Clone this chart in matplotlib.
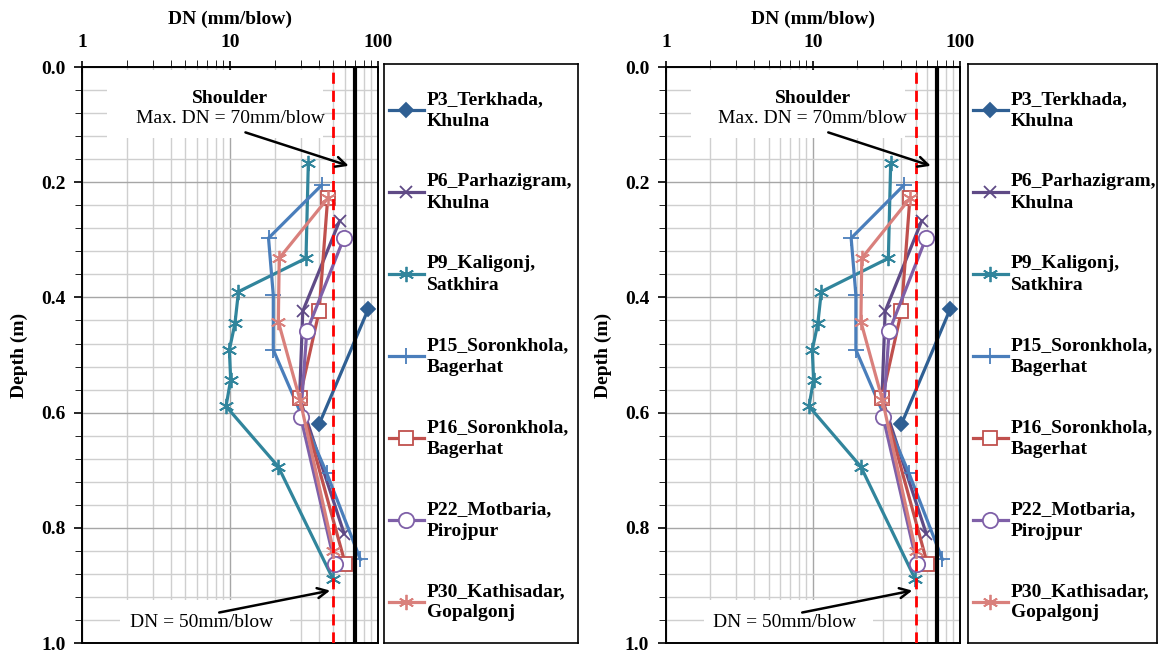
import matplotlib.pyplot as plt
import matplotlib.ticker as mticker
from matplotlib.patches import Rectangle

plt.rcParams['font.family'] = ['Liberation Serif', 'DejaVu Serif']
plt.rcParams['font.weight'] = 'bold'

# DCP results: dynamic penetration index DN (mm/blow) against depth (m)
p3_dn = [86, 40]
p3_depth = [0.42, 0.62]

p6_dn = [55, 31, 29.5, 59]
p6_depth = [0.267, 0.424, 0.575, 0.81]

p9_dn = [33.8, 32.6, 11.4, 10.8, 9.9, 10.1, 9.4, 21.2, 49.4]
p9_depth = [0.167, 0.332, 0.39, 0.445, 0.491, 0.543, 0.589, 0.694, 0.888]

p15_dn = [41.6, 18.2, 19.6, 19.6, 45, 76]
p15_depth = [0.205, 0.297, 0.396, 0.491, 0.705, 0.855]

p16_dn = [45.7, 40, 29.5, 60]
p16_depth = [0.227, 0.424, 0.575, 0.862]

p22_dn = [59, 33, 30, 51]
p22_depth = [0.296, 0.459, 0.607, 0.862]

p30_dn = [45.7, 21.5, 21.2, 29.7, 50]
p30_depth = [0.228, 0.332, 0.442, 0.578, 0.84]

labels = ['P3_Terkhada,\nKhulna', 'P6_Parhazigram,\nKhulna', 'P9_Kaligonj,\nSatkhira',
          'P15_Soronkhola,\nBagerhat', 'P16_Soronkhola,\nBagerhat', 'P22_Motbaria,\nPirojpur',
          'P30_Kathisadar,\nGopalgonj']

max_dn = 70      # shoulder limit
limit_dn = 50    # DN limit line

asterisk = (6, 2, 0)
series = [
    (p3_dn, p3_depth, '#2f5f93', 'D', 7, None),
    (p6_dn, p6_depth, '#5f4a86', 'x', 9, None),
    (p9_dn, p9_depth, '#31859c', asterisk, 11, None),
    (p15_dn, p15_depth, '#4a7ebb', '+', 11, None),
    (p16_dn, p16_depth, '#c0504d', 's', 10, 'white'),
    (p22_dn, p22_depth, '#7f60a8', 'o', 11, 'white'),
    (p30_dn, p30_depth, '#d9807c', asterisk, 11, None),
]


def draw_panel(ax, leg_ax):
    for (dn, depth, color, marker, ms, face), label in zip(series, labels):
        ax.plot(dn, depth, color=color, lw=2.3, marker=marker, ms=ms,
                mfc=face if face else color, mec=color, mew=1.3,
                label=label, zorder=4)

    ax.axvline(limit_dn, color='#ff0000', lw=2, ls=(0, (4, 2.5)), zorder=5)
    ax.axvline(max_dn, color='black', lw=3, zorder=5)

    ax.set_xscale('log')
    ax.set_xlim(1, 100)
    ax.set_ylim(1.0, 0.0)

    ax.xaxis.set_ticks_position('top')
    ax.xaxis.set_label_position('top')
    ax.xaxis.set_major_formatter(mticker.FuncFormatter(lambda v, p: f'{v:g}'))
    ax.xaxis.set_minor_formatter(mticker.NullFormatter())
    ax.set_xlabel('DN (mm/blow)', fontsize=14, fontweight='bold', labelpad=7)

    ax.yaxis.set_major_locator(mticker.MultipleLocator(0.2))
    ax.yaxis.set_minor_locator(mticker.MultipleLocator(0.04))
    ax.yaxis.set_major_formatter(mticker.FormatStrFormatter('%.1f'))
    ax.set_ylabel('Depth (m)', fontsize=14, fontweight='bold', labelpad=9)

    ax.tick_params(which='major', labelsize=14, width=1.2)
    ax.tick_params(axis='x', which='major', direction='inout', length=9, pad=7)
    ax.tick_params(axis='x', which='minor', direction='out', length=5, top=True)
    ax.tick_params(axis='y', which='major', direction='out', length=6, pad=6)
    ax.tick_params(axis='y', which='minor', direction='out', length=5)

    ax.grid(True, which='major', color='#a6a6a6', lw=1.0, zorder=0)
    ax.grid(True, which='minor', color='#cfcfcf', lw=1.0, zorder=0)
    ax.set_axisbelow(True)
    for s in ax.spines.values():
        s.set_linewidth(1.4)

    # white label boxes that hide the grid behind the annotations
    ax.add_patch(Rectangle((0.084, 0.877), 0.73, 0.118, transform=ax.transAxes,
                           facecolor='white', edgecolor='none', zorder=2))
    ax.add_patch(Rectangle((0.128, 0.002), 0.575, 0.073, transform=ax.transAxes,
                           facecolor='white', edgecolor='none', zorder=2))

    ax.text(10, 0.054, 'Shoulder', ha='center', va='center', fontsize=14,
            fontweight='bold', zorder=6)
    ax.text(10, 0.09, 'Max. DN = 70mm/blow', ha='center', va='center', fontsize=14,
            fontweight='normal', zorder=6)
    ax.annotate('', xy=(66, 0.173), xytext=(12.2, 0.112),
                arrowprops=dict(arrowstyle='->', color='black', lw=1.8,
                                mutation_scale=18), zorder=6)

    ax.text(6.4, 0.965, 'DN = 50mm/blow', ha='center', va='center', fontsize=14,
            fontweight='normal', zorder=6)
    ax.annotate('', xy=(49.5, 0.908), xytext=(8.1, 0.948),
                arrowprops=dict(arrowstyle='->', color='black', lw=1.8,
                                mutation_scale=18), zorder=6)

    # legend in its own framed box
    leg_ax.set_xticks([])
    leg_ax.set_yticks([])
    for s in leg_ax.spines.values():
        s.set_linewidth(1.2)
    handles, labs = ax.get_legend_handles_labels()
    leg = leg_ax.legend(handles, labs, loc='upper left', bbox_to_anchor=(0.025, 0.953),
                        frameon=False, prop={'size': 14, 'weight': 'bold'},
                        handlelength=1.8, handletextpad=0.15, labelspacing=2.23,
                        borderaxespad=0, borderpad=0)
    for t in leg.get_texts():
        t.set_linespacing(1.35)


fig = plt.figure(figsize=(11.6, 6.54), dpi=100)
ax1 = fig.add_axes([0.0707, 0.0168, 0.2552, 0.8807])
leg1 = fig.add_axes([0.331, 0.0168, 0.167, 0.885])
ax2 = fig.add_axes([0.5741, 0.0168, 0.2534, 0.8807])
leg2 = fig.add_axes([0.8345, 0.0168, 0.163, 0.885])

draw_panel(ax1, leg1)
draw_panel(ax2, leg2)

fig.savefig('out.png', dpi=100)
